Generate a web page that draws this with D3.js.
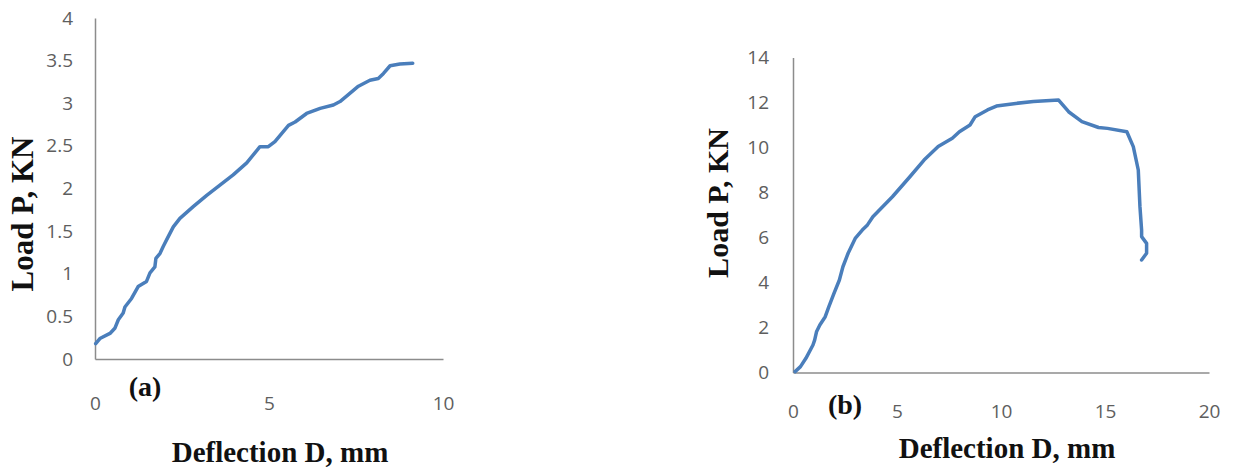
<!DOCTYPE html>
<html>
<head>
<meta charset="utf-8">
<script src="https://cdn.jsdelivr.net/npm/d3@7"></script>
<style>
  html, body { margin: 0; padding: 0; background: #fff; }
  svg { display: block; }
  .ttl { font-family: "Liberation Serif", "Times New Roman", serif; font-weight: bold; fill: #111; }
</style>
</head>
<body>
<div id="chart"></div>
<script>
// panel (a) - deflection (mm) vs load (kN)
const defA  = [0.02, 0.14, 0.43, 0.57, 0.67, 0.81, 0.86, 1.05, 1.24, 1.48, 1.58, 1.72, 1.75, 1.87, 1.96, 2.06, 2.25, 2.44, 2.83, 3.21, 3.59, 3.97, 4.36, 4.74, 4.98, 5.17, 5.56, 5.75, 6.08, 6.47, 6.85, 7.04, 7.28, 7.57, 7.90, 8.14, 8.29, 8.48, 8.76, 9.13];
const loadA = [0.18, 0.24, 0.30, 0.36, 0.46, 0.54, 0.61, 0.71, 0.85, 0.91, 1.01, 1.08, 1.18, 1.24, 1.32, 1.40, 1.55, 1.65, 1.79, 1.92, 2.04, 2.16, 2.30, 2.49, 2.49, 2.55, 2.74, 2.78, 2.88, 2.94, 2.98, 3.02, 3.10, 3.20, 3.27, 3.29, 3.35, 3.44, 3.46, 3.47];

// panel (b)
const defB  = [0.10, 0.36, 0.62, 0.96, 1.04, 1.13, 1.29, 1.55, 1.72, 1.97, 2.23, 2.40, 2.65, 2.99, 3.33, 3.58, 3.84, 4.78, 5.62, 6.30, 6.98, 7.66, 8.00, 8.51, 8.76, 9.35, 9.78, 10.71, 11.56, 12.77, 13.25, 13.89, 14.69, 15.12, 16.05, 16.36, 16.60, 16.68, 16.76, 16.76, 17.00, 17.00, 16.76];
const loadB = [0.04, 0.26, 0.63, 1.22, 1.44, 1.81, 2.11, 2.48, 2.92, 3.52, 4.11, 4.70, 5.30, 5.96, 6.33, 6.56, 6.92, 7.81, 8.70, 9.44, 10.04, 10.41, 10.70, 11.00, 11.37, 11.67, 11.84, 11.96, 12.04, 12.11, 11.59, 11.15, 10.89, 10.85, 10.70, 10.04, 9.00, 7.37, 6.33, 6.04, 5.74, 5.30, 5.00];

const xTicksA = [0, 5, 10];
const yTicksA = [0, 0.5, 1, 1.5, 2, 2.5, 3, 3.5, 4];
const xTicksB = [0, 5, 10, 15, 20];
const yTicksB = [0, 2, 4, 6, 8, 10, 12, 14];

const xTitle = "Deflection D, mm";
const yTitle = "Load P, KN";

const W = 1236, H = 468;
const svg = d3.select("#chart").append("svg")
  .attr("width", W).attr("height", H)
  .attr("viewBox", [0, 0, W, H]);

function styleTicks(sel) {
  sel.selectAll(".tick text")
    .style("font-family", "'Open Sans', sans-serif")
    .style("font-size", "19px")
    .style("fill", "#5e5e5e");
}

function panel(cfg) {
  const x = d3.scaleLinear().domain(cfg.xDom).range([cfg.x0, cfg.x1]);
  const y = d3.scaleLinear().domain(cfg.yDom).range([cfg.y0, cfg.y1]);
  const g = svg.append("g");

  // y axis: only the line, labels off to the left
  const ay = g.append("g")
    .attr("transform", `translate(${cfg.x0},0)`)
    .call(d3.axisLeft(y).tickValues(cfg.yTicks).tickSize(0).tickPadding(cfg.yPad)
      .tickFormat(d3.format("")));
  ay.select(".domain").attr("stroke", "#8c8c8c").attr("stroke-width", 1.5);
  styleTicks(ay);

  const ax = g.append("g")
    .attr("transform", `translate(0,${cfg.y0})`)
    .call(d3.axisBottom(x).tickValues(cfg.xTicks).tickSize(0).tickPadding(cfg.xPad));
  ax.select(".domain").attr("stroke", "#8c8c8c").attr("stroke-width", 1.5);
  styleTicks(ax);

  const pts = cfg.xs.map((d, i) => [d, cfg.ys[i]]);
  g.append("path")
    .datum(pts)
    .attr("fill", "none")
    .attr("stroke", "#4a7ebb")
    .attr("stroke-width", 3.5)
    .attr("stroke-linejoin", "round")
    .attr("stroke-linecap", "round")
    .attr("d", d3.line().x(d => x(d[0])).y(d => y(d[1])));

  g.append("text").attr("class", "ttl")
    .attr("x", cfg.tag[0]).attr("y", cfg.tag[1])
    .attr("text-anchor", "middle")
    .style("font-size", "28px")
    .text(cfg.label);

  g.append("text").attr("class", "ttl")
    .attr("x", cfg.xt[0]).attr("y", cfg.xt[1])
    .attr("text-anchor", "middle")
    .style("font-size", cfg.xtSize + "px")
    .text(xTitle);

  g.append("text").attr("class", "ttl")
    .attr("transform", `translate(${cfg.yt[0]},${cfg.yt[1]}) rotate(-90)`)
    .attr("text-anchor", "middle")
    .style("font-size", cfg.ytSize + "px")
    .text(yTitle);
}

panel({
  xDom: [0, 10], yDom: [0, 4],
  x0: 95, x1: 443, y0: 359, y1: 18,
  xTicks: xTicksA, yTicks: yTicksA,
  xPad: 38, yPad: 22,
  xs: defA, ys: loadA,
  label: "(a)", tag: [145, 396],
  xt: [280, 462], xtSize: 29,
  yt: [33, 214], ytSize: 31
});

panel({
  xDom: [0, 20], yDom: [0, 14],
  x0: 793, x1: 1209, y0: 372.5, y1: 57.5,
  xTicks: xTicksB, yTicks: yTicksB,
  xPad: 32, yPad: 24,
  xs: defB, ys: loadB,
  label: "(b)", tag: [845, 414],
  xt: [1007, 458], xtSize: 29,
  yt: [728, 203], ytSize: 30
});
</script>
</body>
</html>
